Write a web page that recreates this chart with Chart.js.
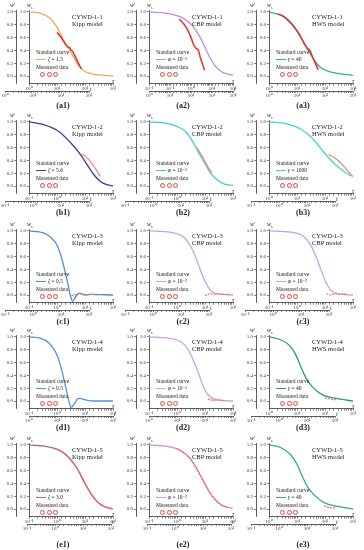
<!DOCTYPE html>
<html>
<head>
<meta charset="utf-8">
<script src="https://cdn.jsdelivr.net/npm/chart.js@4.4.0/dist/chart.umd.min.js"></script>
<style>
  body { margin: 0; background: #fff; width: 364px; height: 550px; position: relative; overflow: hidden;
         font-family: "Liberation Serif", "DejaVu Serif", serif; color: #222; }
  canvas { position: absolute; }
  .t { position: absolute; white-space: nowrap; line-height: 1; }
  .lbl { position: absolute; width: 40px; text-align: center; font-weight: bold; font-size: 8px; line-height: 1; }
  .circ { position: absolute; width: 3.4px; height: 3.4px; border: 0.8px solid #e8453c; border-radius: 50%; }
  .smp { position: absolute; width: 10px; height: 0; }
</style>
</head>
<body>
<script>
// panels a1..e3, row by row
const panelIds = ['a1','a2','a3','b1','b2','b3','c1','c2','c3','d1','d2','d3','e1','e2','e3'];
const rowSamples = ['CYWD-1-1','CYWD-1-2','CYWD-1-3','CYWD-1-4','CYWD-1-5'];
const panelModels = ['Kipp model','CBP model','HWS model','Kipp model','CBP model','HWS model',
  'Kipp model','CBP model','CBP model','Kipp model','CBP model','HWS model',
  'Kipp model','CBP model','HWS model'];
const panelParams = ['ζ = 1.5','φ = 10⁻³','γ = 40','ζ = 5.6','φ = 10⁻³','γ = 1000',
  'ζ = 0.5','φ = 10⁻³','φ = 10⁻³','ζ = 0.5','φ = 10⁻³','γ = 40',
  'ζ = 3.0','φ = 10⁻³','γ = 40'];

// tau axis range in decades, and t exponent minus tau exponent at matching ticks
const tauRange = [[0,3],[-2,2],[0,3],[-1,2],[-1,2],[0,3],[-1,2],[-1,2],[-1,2],[-1,2],[-1,2],[0,3],[-1,2],[-1,2],[0,3]];
const tDecadeShift = [0,2,0,0,0,-1,0,0,0,1,1,-1,0,0,-1];
const yTicks = [0, 0.2, 0.4, 0.6, 0.8, 1.0];

// standard curves: [log10(tau), w]
const curveA1 = [[0,1.0],[0.39,0.98],[0.75,0.9],[0.99,0.77],[1.29,0.51],[1.52,0.35],[1.76,0.17],[2.0,0.07],[2.42,0.02],[3,0.0]];
const curveA2 = [[-2,1.0],[-0.98,0.97],[-0.36,0.9],[0.03,0.8],[0.42,0.61],[0.65,0.46],[0.88,0.3],[1.12,0.17],[1.43,0.07],[2,0.01]];
const curveA3 = [[0,1.0],[0.5,0.93],[0.86,0.78],[1.1,0.63],[1.33,0.46],[1.57,0.28],[1.8,0.15],[2.16,0.07],[3,0.01]];
const curveB1 = [[-1,1.0],[-0.49,0.96],[0,0.87],[0.48,0.68],[0.84,0.49],[1.08,0.33],[1.31,0.18],[1.55,0.07],[1.79,0.02],[2,0.0]];
const curveB2 = [[-1,1.0],[-0.4,0.98],[0,0.93],[0.3,0.85],[0.55,0.7],[0.8,0.5],[1.0,0.35],[1.2,0.2],[1.45,0.09],[1.7,0.03],[2,0.01]];
const curveB3 = [[0,1.0],[0.64,0.97],[1.13,0.89],[1.51,0.76],[1.88,0.57],[2.13,0.44],[2.51,0.28],[2.76,0.2],[3,0.15]];
const curveC1 = [[-1,1.0],[-0.49,0.97],[-0.25,0.91],[0,0.78],[0.17,0.57],[0.29,0.36],[0.41,0.13],[0.49,-0.03],[0.56,-0.1],[0.66,-0.03],[0.8,0.03],[1.0,0.0],[1.18,0.01],[2,0.0]];
const curveC2 = [[-1,1.0],[-0.25,0.98],[0.23,0.91],[0.46,0.78],[0.64,0.62],[0.82,0.41],[1.0,0.21],[1.18,0.08],[1.42,0.02],[2,0.0]];
const curveC3 = [[-1,1.0],[-0.2,0.98],[0.25,0.91],[0.5,0.77],[0.68,0.6],[0.85,0.4],[1.02,0.21],[1.2,0.08],[1.45,0.02],[2,0.0]];
const curveD1 = [[-1,1.0],[-0.6,0.98],[-0.3,0.91],[-0.07,0.78],[0.11,0.58],[0.23,0.37],[0.35,0.14],[0.43,-0.01],[0.5,-0.1],[0.61,-0.05],[0.73,0.03],[0.82,0.04],[1.0,0.02],[1.3,0.0],[2,0.0]];
const curveD2 = [[-1,1.0],[-0.3,0.98],[0.15,0.92],[0.4,0.8],[0.6,0.62],[0.78,0.42],[0.95,0.22],[1.12,0.09],[1.4,0.02],[2,0.0]];
const curveD3 = [[0,1.0],[0.4,0.96],[0.75,0.86],[0.98,0.7],[1.15,0.52],[1.32,0.36],[1.55,0.22],[1.9,0.1],[2.4,0.04],[3,0.0]];
const curveE1 = [[-1,1.0],[-0.45,0.98],[0.07,0.92],[0.43,0.8],[0.73,0.62],[0.97,0.42],[1.21,0.24],[1.45,0.11],[1.69,0.04],[2,0.0]];
const curveE2 = [[-1,1.0],[-0.4,0.98],[0.1,0.92],[0.45,0.8],[0.72,0.62],[0.95,0.43],[1.18,0.25],[1.42,0.12],[1.68,0.04],[2,0.01]];
const curveE3 = [[0,1.0],[0.41,0.96],[0.77,0.85],[1.01,0.69],[1.19,0.51],[1.37,0.35],[1.61,0.22],[1.97,0.1],[2.45,0.04],[3,0.0]];

// measured data: [log10(tau), w]
const measA1 = [[1.0,0.68],[1.15,0.6],[1.3,0.5],[1.4,0.45],[1.46,0.44],[1.5,0.4],[1.55,0.39],[1.62,0.33],[1.72,0.24],[1.82,0.15],[1.88,0.11]];
const measA2 = [[-0.56,0.89],[-0.25,0.77],[-0.01,0.61],[0.14,0.48],[0.29,0.42],[0.34,0.41],[0.45,0.28],[0.65,0.09]];
const measA3 = [[0.3,0.97],[0.5,0.94],[0.86,0.79],[1.1,0.64],[1.25,0.51],[1.37,0.43],[1.46,0.4],[1.57,0.28],[1.76,0.1]];
const measB1 = [[0.84,0.5],[1.0,0.47],[1.18,0.39],[1.36,0.28],[1.55,0.15]];
const measB2 = [[0.7,0.6],[0.85,0.5],[1.0,0.38],[1.1,0.3],[1.25,0.2]];
const measB3 = [[2.13,0.49],[2.38,0.43],[2.63,0.33],[2.82,0.23],[2.98,0.15]];
const measC1 = [[0.52,-0.01],[0.71,0.01],[0.89,0.02],[1.08,0.0],[1.26,0.01],[1.44,0.0]];
const measC2 = [[1.0,-0.01],[1.18,0.02],[1.36,0.01],[1.54,0.02],[1.72,0.01],[1.9,0.01]];
const measC3 = [[1.05,0.02],[1.2,0.0],[1.35,0.02],[1.5,0.01],[1.65,0.02],[1.8,0.01]];
const measD1 = [];
const measD2 = [[1.1,0.03],[1.3,0.01],[1.5,0.02],[1.7,0.0]];
const measD3 = [[2.0,0.05],[2.2,0.03],[2.4,0.02]];
const measE1 = [[-0.2,0.96],[0.2,0.89],[0.5,0.77],[0.8,0.58],[1.0,0.41],[1.2,0.25],[1.4,0.13],[1.6,0.06],[1.8,0.02],[1.95,0.01]];
const measE2 = [[0.0,0.94],[0.35,0.84],[0.62,0.69],[0.85,0.51],[1.05,0.35],[1.25,0.21],[1.45,0.11],[1.65,0.05],[1.85,0.02]];
const measE3 = [[1.97,0.05],[2.1,0.03],[2.25,0.02],[2.4,0.02]];

const curves = [curveA1,curveA2,curveA3,curveB1,curveB2,curveB3,curveC1,curveC2,curveC3,curveD1,curveD2,curveD3,curveE1,curveE2,curveE3];
const measured = [measA1,measA2,measA3,measB1,measB2,measB3,measC1,measC2,measC3,measD1,measD2,measD3,measE1,measE2,measE3];

// styles / layout
const curveColors = ['#f2a65a','#c48ae0','#3aa99a','#3e3c9a','#3ccbe0','#3fd6d2','#4a8fd8','#c8a0e4','#c8a0e4','#4f94dc','#c8a0e4','#2f968a','#a67676','#d49ad8','#36a597'];
const measColors = ['#e0302a','#f08080','#f07070','#f07070','#ee5a5a'];
const rowTop = [0, 110, 219, 325, 433];
const labelTop = [102, 209, 318, 424, 541];
const legendTop = [50, 51, 53, 54, 55];
const tAxisOffset = [24,0,0,24,24,18,24,24,24,0,0,18,2,2,18];

const AX = '#333';
const tickFont = { family: 'Liberation Serif', size: 5 };
const supMap = { '-': '⁻', '0': '⁰', '1': '¹', '2': '²', '3': '³', '4': '⁴', '5': '⁵' };
const decadeLabel = v => {
  const e = Math.log10(v), r = Math.round(e);
  return Math.abs(e - r) < 1e-6 ? '10' + String(r).split('').map(c => supMap[c]).join('') : '';
};
const toXY = pts => pts.map(p => ({ x: Math.pow(10, p[0]), y: p[1] }));

function logAxis(lo, hi) {
  return {
    type: 'logarithmic', min: Math.pow(10, lo), max: Math.pow(10, hi), position: 'bottom',
    grid: { drawOnChartArea: false, tickLength: 2, color: AX, lineWidth: 0.6 },
    border: { color: AX, width: 0.8 },
    ticks: { autoSkip: false, maxRotation: 0, padding: 0, font: tickFont, color: AX, callback: decadeLabel },
    afterFit: s => { s.height = 8; }
  };
}
function wAxis(weight, width) {
  return {
    position: 'left', weight: weight, min: -0.12, max: 1.03,
    grid: { drawOnChartArea: false, tickLength: 2, color: AX, lineWidth: 0.6 },
    border: { color: AX, width: 0.8 },
    ticks: { padding: 1, font: tickFont, color: AX, callback: v => v.toFixed(1) },
    afterBuildTicks: s => { s.ticks = yTicks.map(v => ({ value: v })); },
    afterFit: s => { s.width = width; }
  };
}

function addText(html, x, y, size, extra) {
  const d = document.createElement('div');
  d.className = 't';
  d.innerHTML = html;
  d.style.left = x + 'px';
  d.style.top = y + 'px';
  d.style.fontSize = size + 'px';
  if (extra) Object.assign(d.style, extra);
  document.body.appendChild(d);
  return d;
}

panelIds.forEach((id, i) => {
  const row = Math.floor(i / 3), col = i % 3;
  const L = col * 120, T = rowTop[row];
  const [lo, hi] = tauRange[i];
  const dx = tAxisOffset[i];

  const main = document.createElement('canvas');
  main.width = 120; main.height = 100;
  main.style.left = L + 'px'; main.style.top = T + 'px';
  document.body.appendChild(main);

  const tc = document.createElement('canvas');
  tc.width = 120; tc.height = 100;
  tc.style.left = L + 'px'; tc.style.top = T + 'px';
  document.body.appendChild(tc);

  new Chart(main, {
    type: 'line',
    data: {
      datasets: [
        { data: toXY(measured[i]), borderColor: measColors[row], borderWidth: row === 0 ? 1.5 : 1.2,
          borderDash: row >= 2 ? [2, 1] : [], pointRadius: 0, cubicInterpolationMode: 'monotone' },
        { data: toXY(curves[i]), borderColor: curveColors[i], borderWidth: 1.3, pointRadius: 0,
          cubicInterpolationMode: 'monotone' }
      ]
    },
    options: {
      responsive: false, animation: false, events: [],
      layout: { padding: { left: 0, right: 7, top: 10, bottom: 8.3 } },
      plugins: { legend: { display: false }, tooltip: { enabled: false } },
      scales: { x: logAxis(lo, hi), y: wAxis(0, 13), y2: wAxis(1, 16) }
    }
  });

  // t axis (same decades, shifted)
  new Chart(tc, {
    type: 'line',
    data: { datasets: [] },
    options: {
      responsive: false, animation: false, events: [],
      layout: { padding: { left: 29 - dx, right: 7 + dx, top: 0, bottom: 1 } },
      plugins: { legend: { display: false }, tooltip: { enabled: false } },
      scales: { x: logAxis(lo + tDecadeShift[i], hi + tDecadeShift[i]), y: { display: false } }
    }
  });

  // axis titles
  addText('<i>w</i>′', L + 10, T + 2, 6);
  addText('<i>w</i><sub style="font-size:4px">s</sub>', L + 27, T + 2, 6);
  addText('<i>τ</i>', L + 112, T + 78, 6);
  addText('<i>t</i>', L + 114 - dx, T + 86, 6);

  // annotation
  addText(rowSamples[row], L + 72, T + 14, 6.5);
  addText(panelModels[i], L + 72, T + 21, 6.5);

  // legend
  const g = T + legendTop[row];
  addText('Standard curve', L + 36, g, 5.5);
  const s = document.createElement('div');
  s.className = 'smp';
  s.style.left = (L + 36) + 'px'; s.style.top = (g + 9) + 'px';
  s.style.borderTop = '1.2px solid ' + curveColors[i];
  document.body.appendChild(s);
  addText('<i>' + panelParams[i].charAt(0) + '</i>' + panelParams[i].slice(1), L + 48, g + 6.5, 5.5);
  addText('Measured data', L + 36, g + 15, 5.5);
  [40, 46.5, 53].forEach(cx => {
    const c = document.createElement('div');
    c.className = 'circ';
    c.style.left = (L + cx) + 'px'; c.style.top = (g + 21.5) + 'px';
    document.body.appendChild(c);
  });

  // panel label
  const lb = document.createElement('div');
  lb.className = 'lbl';
  lb.textContent = '(' + id + ')';
  lb.style.left = (L + 43) + 'px'; lb.style.top = labelTop[row] + 'px';
  document.body.appendChild(lb);
});
</script>
</body>
</html>
